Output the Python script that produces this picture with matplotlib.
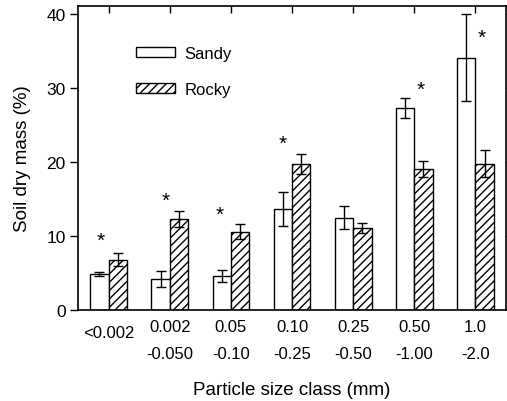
import numpy as np
import matplotlib
matplotlib.use("Agg")
import matplotlib.pyplot as plt

plt.rcParams['font.family'] = ['Liberation Sans', 'DejaVu Sans']
plt.rcParams['hatch.linewidth'] = 1.0

# size classes (mm), two lines each
class_top = ["<0.002", "0.002", "0.05", "0.10", "0.25", "0.50", "1.0"]
class_bot = ["", "-0.050", "-0.10", "-0.25", "-0.50", "-1.00", "-2.0"]

sandy = [4.9, 4.2, 4.6, 13.6, 12.5, 27.3, 34.1]
sandy_err = [0.3, 1.1, 0.75, 2.3, 1.6, 1.4, 5.9]
rocky = [6.8, 12.3, 10.6, 19.8, 11.1, 19.05, 19.8]
rocky_err = [0.9, 1.1, 1.0, 1.35, 0.7, 1.05, 1.85]

# significance stars: (group, offset from group centre, height)
star_group = [0, 1, 2, 3, 5, 6]
star_dx = [-0.13, -0.07, -0.18, -0.16, 0.11, 0.10]
star_y = [9.4, 14.8, 13.0, 22.5, 29.8, 36.8]

fig = plt.figure(figsize=(5.07, 4.02), dpi=100)
ax = fig.add_axes([0.154, 0.2264, 0.844, 0.7562])

x = np.arange(len(sandy))
w = 0.3
ekw = dict(elinewidth=1.0, capthick=1.0)
ax.bar(x - w / 2, sandy, w, yerr=sandy_err, color='white', edgecolor='black',
       linewidth=1.0, capsize=3.5, error_kw=ekw, label='Sandy')
ax.bar(x + w / 2, rocky, w, yerr=rocky_err, color='white', edgecolor='black',
       linewidth=1.0, hatch='////', capsize=3.5, error_kw=ekw, label='Rocky')

for g, dx, yy in zip(star_group, star_dx, star_y):
    ax.text(g + dx, yy, '*', ha='center', va='center', fontsize=15)

ax.set_xlim(-0.5, 6.5)
ax.set_ylim(0, 41.1)
ax.set_yticks([0, 10, 20, 30, 40])
ax.tick_params(axis='y', which='both', direction='out', length=6, width=1,
               labelsize=12.5, pad=3, right=True)
ax.set_xticks(x)
ax.tick_params(axis='x', bottom=False, top=True, direction='in', length=5,
               width=1, labelbottom=False)
# right-side ticks point inward
for t in ax.yaxis.get_major_ticks():
    t.tick2line.set_marker(matplotlib.lines.TICKRIGHT)
    t.tick2line.set_markersize(5)

trans = ax.get_xaxis_transform()
for i in range(len(class_top)):
    if class_bot[i]:
        ax.text(x[i], -0.055, class_top[i], transform=trans, ha='center',
                va='center', fontsize=12)
        ax.text(x[i], -0.143, class_bot[i], transform=trans, ha='center',
                va='center', fontsize=12)
    else:
        ax.text(x[i], -0.075, class_top[i], transform=trans, ha='center',
                va='center', fontsize=12)

for s in ax.spines.values():
    s.set_linewidth(1.2)

ax.set_xlabel('Particle size class (mm)', fontsize=13.5, labelpad=51)
ax.set_ylabel('Soil dry mass (%)', fontsize=13.5, labelpad=11)

ax.legend(loc='upper left', bbox_to_anchor=(0.136, 0.87), frameon=False,
          fontsize=12, handlelength=2.35, handleheight=0.55,
          handletextpad=0.55, labelspacing=1.27, borderpad=0,
          borderaxespad=0)

fig.savefig('out.png', dpi=100)
